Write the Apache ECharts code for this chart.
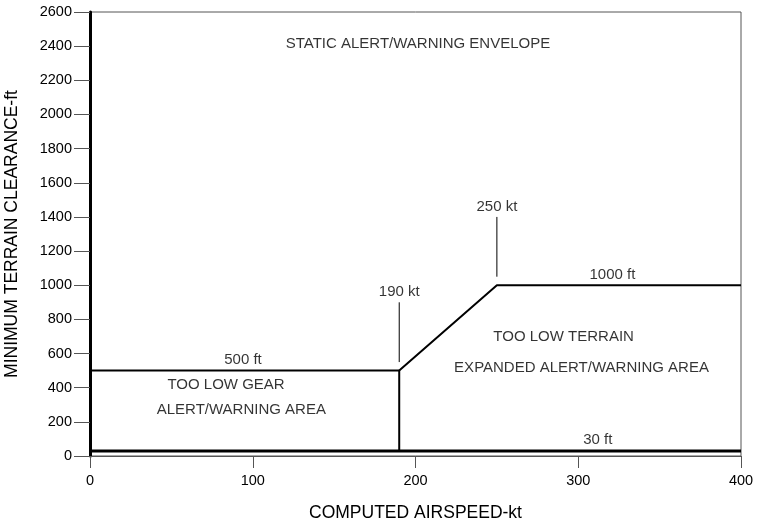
<!DOCTYPE html>
<html><head><meta charset="utf-8">
<script src="https://cdn.jsdelivr.net/npm/echarts@6/dist/echarts.min.js"></script>
<style>html,body{margin:0;padding:0;background:#fff}#c{width:761px;height:525px}</style>
</head><body><div id="c"></div>
<script>
// Envelope boundary (airspeed kt, clearance ft)
var gearBoundary = [[0, 500], [190, 500], [190, 30]];
var terrainBoundary = [[190, 500], [250, 1000], [400, 1000]];
var floorLine = [[0, 30], [400, 30]];
var leader190 = [[190, 550], [190, 900]];
var leader250 = [[250, 1050], [250, 1400]];
// Annotation texts with their data-space anchor
var annotations = [
  {text: 'STATIC ALERT/WARNING ENVELOPE', x: 201.5, y: 2412},
  {text: '500 ft', x: 94, y: 562},
  {text: '1000 ft', x: 321, y: 1060},
  {text: '30 ft', x: 312, y: 94},
  {text: '190 kt', x: 190, y: 960},
  {text: '250 kt', x: 250, y: 1458},
  {text: 'TOO LOW GEAR', x: 83.6, y: 416},
  {text: 'ALERT/WARNING AREA', x: 93, y: 270},
  {text: 'TOO LOW TERRAIN', x: 291, y: 697},
  {text: 'EXPANDED ALERT/WARNING AREA', x: 302, y: 515}
];
var xTicks = [0, 100, 200, 300, 400];
var yTicks = [0, 200, 400, 600, 800, 1000, 1200, 1400, 1600, 1800, 2000, 2200, 2400, 2600];

var font = 'Liberation Sans, Arial, Helvetica, sans-serif';
var chart = echarts.init(document.getElementById('c'));
function lineSeries(d, w) {
  return {type: 'line', data: d, symbol: 'none', silent: true, animation: false,
    lineStyle: {color: '#000', width: w}, z: 5};
}
chart.setOption({
  backgroundColor: '#fff',
  animation: false,
  grid: {left: 90, right: 20, top: 12, bottom: 69, show: true, borderColor: '#555', borderWidth: 1,
    backgroundColor: 'transparent', containLabel: false, outerBoundsMode: 'none'},
  xAxis: {
    type: 'value', min: xTicks[0], max: xTicks[xTicks.length - 1], interval: 100,
    name: 'COMPUTED AIRSPEED-kt', nameLocation: 'middle', nameGap: 48,
    nameTextStyle: {fontFamily: font, fontSize: 17.5, color: '#000'},
    axisLine: {show: true, lineStyle: {color: '#555', width: 1}},
    axisTick: {show: true, length: 12, lineStyle: {color: '#555', width: 1}},
    axisLabel: {fontFamily: font, fontSize: 14.5, color: '#000', margin: 17,
      formatter: function (v) { return String(v); }},
    splitLine: {show: false}
  },
  yAxis: {
    type: 'value', min: yTicks[0], max: yTicks[yTicks.length - 1], interval: 200,
    name: 'MINIMUM TERRAIN CLEARANCE-ft', nameLocation: 'middle', nameGap: 69,
    nameTextStyle: {fontFamily: font, fontSize: 17.5, color: '#000'},
    axisLine: {show: true, lineStyle: {color: '#000', width: 3}},
    axisTick: {show: true, length: 16, lineStyle: {color: '#555', width: 1}},
    axisLabel: {fontFamily: font, fontSize: 14.5, color: '#000', margin: 18,
      formatter: function (v) { return String(v); }},
    splitLine: {show: false}
  },
  series: [
    lineSeries(gearBoundary, 2),
    lineSeries(terrainBoundary, 2),
    lineSeries(floorLine, 3),
    lineSeries(leader190, 1),
    lineSeries(leader250, 1),
    {
      type: 'scatter', symbolSize: 0, silent: true, animation: false,
      data: annotations.map(function (a) { return {value: [a.x, a.y], name: a.text}; }),
      label: {show: true, position: 'inside', formatter: function (p) { return p.name; },
        fontFamily: font, fontSize: 15, color: '#000'}
    }
  ]
});
</script></body></html>
